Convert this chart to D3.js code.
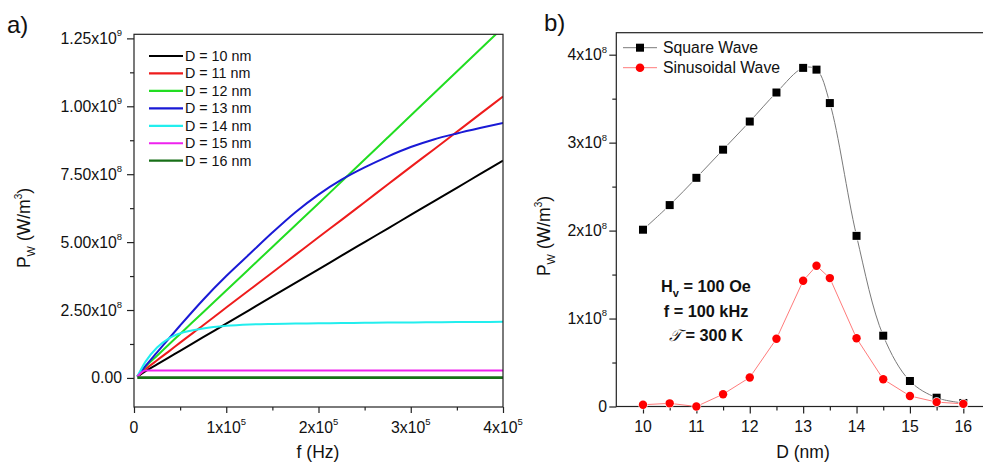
<!DOCTYPE html>
<html><head><meta charset="utf-8">
<script src="https://cdn.jsdelivr.net/npm/d3@7"></script>
<style>
body{margin:0;background:#fff}
svg{display:block;font-family:"Liberation Sans",Arial,sans-serif}
</style>
</head><body>
<svg id="c" width="983" height="466"></svg>
<script>
// ---------- Panel a) data: P_W in units of 1e8 W/m^3 vs frequency (Hz)
const freqHz = [3600, 12500, 25000, 37500, 50000, 75000, 100000, 125000, 150000, 175000, 200000, 225000, 250000, 275000, 300000, 325000, 350000, 375000, 400000];
const seriesNames = ["D = 10 nm", "D = 11 nm", "D = 12 nm", "D = 13 nm", "D = 14 nm", "D = 15 nm", "D = 16 nm"];
const pD10 = [0.05, 0.25, 0.50, 0.75, 1.00, 1.50, 2.00, 2.50, 3.00, 3.50, 4.00, 4.50, 5.00, 5.50, 6.00, 6.50, 7.00, 7.50, 8.00];
const pD11 = [0.05, 0.32, 0.65, 0.97, 1.30, 1.94, 2.59, 3.24, 3.88, 4.53, 5.18, 5.82, 6.47, 7.12, 7.77, 8.41, 9.06, 9.71, 10.36];
const pD12 = [0.05, 0.42, 0.82, 1.22, 1.62, 2.42, 3.22, 4.02, 4.82, 5.62, 6.42, 7.23, 8.04, 8.85, 9.66, 10.47, 11.28, 12.09, 12.90];
const pD13 = [0.05, 0.44, 0.94, 1.44, 1.93, 2.88, 3.75, 4.55, 5.35, 6.10, 6.75, 7.30, 7.75, 8.15, 8.50, 8.78, 9.00, 9.20, 9.39];
const pD14 = [0.05, 0.60, 1.12, 1.45, 1.64, 1.82, 1.92, 1.97, 1.99, 2.00, 2.01, 2.02, 2.03, 2.04, 2.04, 2.05, 2.06, 2.06, 2.07];
const pD15 = [0.05, 0.27, 0.27, 0.27, 0.27, 0.27, 0.27, 0.27, 0.27, 0.27, 0.27, 0.27, 0.27, 0.27, 0.27, 0.27, 0.27, 0.27, 0.27];
const pD16 = [0.01, 0.01, 0.01, 0.01, 0.01, 0.01, 0.01, 0.01, 0.01, 0.01, 0.01, 0.01, 0.01, 0.01, 0.01, 0.01, 0.01, 0.01, 0.01];
const seriesColors = ["#000000", "#ee1c1c", "#22dd22", "#1a1ad6", "#22eeee", "#ee22ee", "#176f17"];

const aYTicks = [0, 2.5, 5, 7.5, 10, 12.5];
const aYTickLabels = [["0.00", ""], ["2.50x10", "8"], ["5.00x10", "8"], ["7.50x10", "8"], ["1.00x10", "9"], ["1.25x10", "9"]];
const aYMinor = [1.25, 3.75, 6.25, 8.75, 11.25];
const aXTicks = [0, 100000, 200000, 300000, 400000];
const aXTickLabels = [["0", ""], ["1x10", "5"], ["2x10", "5"], ["3x10", "5"], ["4x10", "5"]];
const aXMinor = [50000, 150000, 250000, 350000];

// ---------- Panel b) data: P_W in units of 1e8 W/m^3 vs D (nm)
const diamNm = [10, 10.5, 11, 11.5, 12, 12.5, 13, 13.25, 13.5, 14, 14.5, 15, 15.5, 16];
const squareWave = [2.01, 2.29, 2.60, 2.92, 3.24, 3.57, 3.85, 3.83, 3.45, 1.94, 0.805, 0.29, 0.10, 0.04];
const sineWave = [0.02, 0.036, 0.0, 0.14, 0.33, 0.77, 1.43, 1.60, 1.46, 0.776, 0.31, 0.12, 0.05, 0.03];
const bYTicks = [0, 1, 2, 3, 4];
const bYTickLabels = [["0", ""], ["1x10", "8"], ["2x10", "8"], ["3x10", "8"], ["4x10", "8"]];
const bYMinor = [0.5, 1.5, 2.5, 3.5];
const bXTicks = [10, 11, 12, 13, 14, 15, 16];
const bXMinor = [10.5, 11.5, 12.5, 13.5, 14.5, 15.5];

const svg = d3.select("#c");

function supLabel(g, x, y, base, sup, anchor, size) {
  const t = g.append("text").attr("x", x).attr("y", y).attr("text-anchor", anchor)
    .attr("font-size", size).attr("fill", "#111").text(base);
  if (sup) t.append("tspan").attr("font-size", size * 0.6).attr("dy", -size * 0.48).text(sup);
  return t;
}
function ticks(g, axisFn, scale, values, size) {
  g.call(axisFn(scale).tickValues(values).tickSize(size).tickFormat(""));
  g.select(".domain").remove();
  g.selectAll("line").attr("stroke", "#222").attr("stroke-width", 1.2);
}

// =============== Panel a ===============
const xA = d3.scaleLinear().domain([0, 400000]).range([134, 503]);
const yA = d3.scaleLinear().domain([-1.07, 12.65]).range([407, 34.3]);

svg.append("clipPath").attr("id", "clipA").append("rect")
  .attr("x", xA.range()[0]).attr("y", yA.range()[1])
  .attr("width", xA.range()[1] - xA.range()[0]).attr("height", yA.range()[0] - yA.range()[1]);

const gA = svg.append("g");
ticks(gA.append("g").attr("transform", `translate(${xA.range()[0]},0)`), d3.axisLeft, yA, aYTicks, 7);
ticks(gA.append("g").attr("transform", `translate(${xA.range()[0]},0)`), d3.axisLeft, yA, aYMinor, 4);
ticks(gA.append("g").attr("transform", `translate(0,${yA.range()[0]})`), d3.axisBottom, xA, aXTicks, 6);
ticks(gA.append("g").attr("transform", `translate(0,${yA.range()[0]})`), d3.axisBottom, xA, aXMinor, 3.5);

aYTicks.forEach((v, i) => supLabel(gA, 122, yA(v) + 5.5, aYTickLabels[i][0], aYTickLabels[i][1], "end", 15.8));
aXTicks.forEach((v, i) => supLabel(gA, xA(v), 433, aXTickLabels[i][0], aXTickLabels[i][1], "middle", 15.8));

const allA = [pD10, pD11, pD12, pD13, pD14, pD15, pD16];
const lineA = d3.line().x(d => xA(d[0])).y(d => yA(d[1])).curve(d3.curveMonotoneX);
const curvesA = gA.append("g").attr("clip-path", "url(#clipA)");
allA.forEach((arr, i) => {
  curvesA.append("path").datum(freqHz.map((f, j) => [f, arr[j]]))
    .attr("d", lineA).attr("fill", "none").attr("stroke", seriesColors[i])
    .attr("stroke-width", i === 6 ? 2.6 : 2);
});

gA.append("rect").attr("x", xA.range()[0]).attr("y", yA.range()[1])
  .attr("width", xA.range()[1] - xA.range()[0]).attr("height", yA.range()[0] - yA.range()[1])
  .attr("fill", "none").attr("stroke", "#222").attr("stroke-width", 1.2);

// legend a
const legA = gA.append("g");
seriesNames.forEach((n, i) => {
  const y = 56 + i * 17.45;
  legA.append("line").attr("x1", 149).attr("x2", 183).attr("y1", y).attr("y2", y)
    .attr("stroke", seriesColors[i]).attr("stroke-width", 2.2);
  legA.append("text").attr("x", 185).attr("y", y + 5).attr("font-size", 14.3).attr("fill", "#111").text(n);
});

// axis titles a
gA.append("text").attr("x", 318).attr("y", 458).attr("text-anchor", "middle")
  .attr("font-size", 17.5).attr("fill", "#111").text("f (Hz)");
const tA = gA.append("text").attr("transform", "translate(30,228) rotate(-90)")
  .attr("text-anchor", "middle").attr("font-size", 17.5).attr("fill", "#111");
tA.append("tspan").text("P");
tA.append("tspan").attr("font-size", 11).attr("dy", 5).text("W");
tA.append("tspan").attr("dy", -5).text(" (W/m");
tA.append("tspan").attr("font-size", 10).attr("dy", -8).text("3");
tA.append("tspan").attr("dy", 8).text(")");

svg.append("text").attr("x", 7).attr("y", 33).attr("font-size", 24).attr("fill", "#111").text("a)");

// =============== Panel b ===============
const xB = d3.scaleLinear().domain([9.5, 16.5]).range([616.3, 990]);
const yB = d3.scaleLinear().domain([0, 4.25]).range([406.5, 32.7]);
const gB = svg.append("g");

ticks(gB.append("g").attr("transform", `translate(${xB.range()[0]},0)`), d3.axisLeft, yB, bYTicks, 7);
ticks(gB.append("g").attr("transform", `translate(${xB.range()[0]},0)`), d3.axisLeft, yB, bYMinor, 4);
ticks(gB.append("g").attr("transform", `translate(0,${yB.range()[0]})`), d3.axisBottom, xB, bXTicks, 7);
ticks(gB.append("g").attr("transform", `translate(0,${yB.range()[0]})`), d3.axisBottom, xB, bXMinor, 4);

bYTicks.forEach((v, i) => supLabel(gB, 607, yB(v) + 5.5, bYTickLabels[i][0], bYTickLabels[i][1], "end", 15.8));
bXTicks.forEach(v => supLabel(gB, xB(v), 432, String(v), "", "middle", 15.8));

gB.append("rect").attr("x", xB.range()[0]).attr("y", yB.range()[1])
  .attr("width", xB.range()[1] - xB.range()[0]).attr("height", yB.range()[0] - yB.range()[1])
  .attr("fill", "none").attr("stroke", "#222").attr("stroke-width", 1.2);

const sqPts = diamNm.map((d, j) => [d, squareWave[j]]);
const sinPts = diamNm.map((d, j) => [d, sineWave[j]]);
gB.append("path").datum(sqPts)
  .attr("d", d3.line().x(d => xB(d[0])).y(d => yB(d[1])).curve(d3.curveCatmullRom.alpha(0.5)))
  .attr("fill", "none").attr("stroke", "#7a7a7a").attr("stroke-width", 1);
gB.append("path").datum(sinPts)
  .attr("d", d3.line().x(d => xB(d[0])).y(d => yB(d[1])))
  .attr("fill", "none").attr("stroke", "#ff7b7b").attr("stroke-width", 1);

gB.append("g").selectAll("rect").data(sqPts).join("rect")
  .attr("x", d => xB(d[0]) - 4).attr("y", d => yB(d[1]) - 4).attr("width", 8).attr("height", 8)
  .attr("fill", "#000").attr("stroke", "#fff").attr("stroke-width", 1.5).attr("paint-order", "stroke");
gB.append("g").selectAll("circle").data(sinPts).join("circle")
  .attr("cx", d => xB(d[0])).attr("cy", d => yB(d[1])).attr("r", 4.2)
  .attr("fill", "#ff0000").attr("stroke", "#fff").attr("stroke-width", 1.2).attr("paint-order", "stroke");

// legend b
const legB = gB.append("g");
legB.append("line").attr("x1", 623).attr("x2", 657).attr("y1", 47.7).attr("y2", 47.7).attr("stroke", "#7a7a7a").attr("stroke-width", 1);
legB.append("rect").attr("x", 636).attr("y", 43.7).attr("width", 8).attr("height", 8).attr("fill", "#000");
legB.append("text").attr("x", 663).attr("y", 53.3).attr("font-size", 15.8).attr("fill", "#111").text("Square Wave");
legB.append("line").attr("x1", 623).attr("x2", 657).attr("y1", 67.7).attr("y2", 67.7).attr("stroke", "#ff7b7b").attr("stroke-width", 1);
legB.append("circle").attr("cx", 640).attr("cy", 67.7).attr("r", 4.3).attr("fill", "#ff0000");
legB.append("text").attr("x", 663).attr("y", 73.3).attr("font-size", 15.8).attr("fill", "#111").text("Sinusoidal Wave");

// annotation
const ann = gB.append("g").attr("font-weight", "bold").attr("font-size", 16.3).attr("fill", "#111").attr("text-anchor", "middle");
const a1 = ann.append("text").attr("x", 706).attr("y", 291.7);
a1.append("tspan").text("H");
a1.append("tspan").attr("font-size", 11).attr("dy", 5).text("v");
a1.append("tspan").attr("dy", -5).text(" = 100 Oe");
ann.append("text").attr("x", 706).attr("y", 316.7).text("f = 100 kHz");
const a3 = ann.append("text").attr("x", 706).attr("y", 340.5);
a3.append("tspan").attr("font-weight", "normal").attr("font-style", "italic").attr("font-family", "DejaVu Serif, serif").text("𝒯");
a3.append("tspan").text(" = 300 K");

// axis titles b
gB.append("text").attr("x", 803).attr("y", 458).attr("text-anchor", "middle")
  .attr("font-size", 17.5).attr("fill", "#111").text("D (nm)");
const tB = gB.append("text").attr("transform", "translate(550,236) rotate(-90)")
  .attr("text-anchor", "middle").attr("font-size", 17.5).attr("fill", "#111");
tB.append("tspan").text("P");
tB.append("tspan").attr("font-size", 11).attr("dy", 5).text("W");
tB.append("tspan").attr("dy", -5).text(" (W/m");
tB.append("tspan").attr("font-size", 10).attr("dy", -8).text("3");
tB.append("tspan").attr("dy", 8).text(")");

svg.append("text").attr("x", 544).attr("y", 31).attr("font-size", 24).attr("fill", "#111").text("b)");
</script>
</body></html>
